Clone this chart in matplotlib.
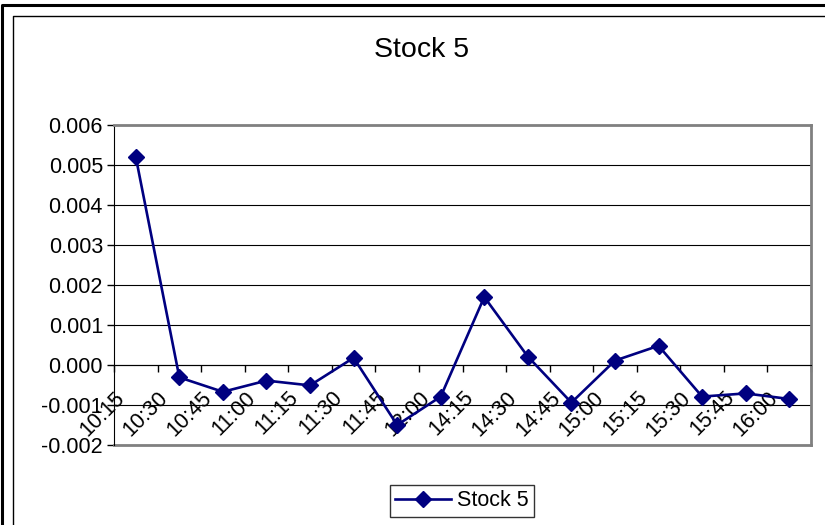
import numpy as np
import matplotlib.pyplot as plt
from matplotlib.lines import Line2D

plt.rcParams['font.family'] = ['Liberation Sans', 'DejaVu Sans']

# datos
horas = ['10:15', '10:30', '10:45', '11:00', '11:15', '11:30', '11:45', '12:00',
         '14:15', '14:30', '14:45', '15:00', '15:15', '15:30', '15:45', '16:00']
stock5 = [0.0052, -0.00031, -0.00067, -0.00039, -0.00051, 0.00018, -0.0015, -0.00079,
          0.0017, 0.00021, -0.00094, 0.00011, 0.00048, -0.00079, -0.00071, -0.00085]
yticks = [-0.002, -0.001, 0.0, 0.001, 0.002, 0.003, 0.004, 0.005, 0.006]

fs = 15.5

fig = plt.figure(figsize=(8.25, 5.25), dpi=100)
ax = fig.add_axes([114/825, 1 - 445/525, (811 - 114)/825, (445 - 125)/525])

x = np.arange(len(horas))
ax.plot(x, stock5, color='#000080', lw=1.9, marker='D', ms=8.5,
        markeredgecolor='#000080', label='Stock 5', clip_on=False, zorder=5)

ax.set_xlim(-0.5, len(horas) - 0.5)
ax.set_ylim(-0.002, 0.006)
ax.set_yticks(yticks)
ax.set_yticklabels(['%.3f' % v for v in yticks], fontsize=fs)
ax.yaxis.grid(True, color='black', lw=0.8)
ax.set_axisbelow(True)

# eje x cruza en cero
ax.spines['bottom'].set_position(('data', 0))
ax.spines['bottom'].set_color('black')
ax.spines['left'].set_color('black')
ax.spines['top'].set_color('#808080')
ax.spines['right'].set_color('#808080')
ax.spines['top'].set_linewidth(2)
ax.spines['right'].set_linewidth(2)
ax.plot([0, 1], [0, 0], transform=ax.transAxes, color='#808080', lw=2, clip_on=False)

ax.set_xticks(np.arange(-0.5, len(horas), 1))
ax.set_xticklabels([])
ax.tick_params(axis='x', direction='out', length=5, width=1, color='black')
ax.tick_params(axis='y', direction='out', length=5, width=1, pad=3, color='black')

for i, h in enumerate(horas):
    ax.annotate(h, (i, 0), xytext=(-5, -16), textcoords='offset points',
                rotation=45, ha='right', va='top', fontsize=fs)

fig.text(422/825, 1 - 50/525, 'Stock 5', ha='center', va='center', fontsize=20.5)

leg = fig.legend(loc='center', bbox_to_anchor=(462/825, 1 - 501/525), fontsize=fs,
                 frameon=True, fancybox=False, handlelength=2.6, borderpad=0.25,
                 handletextpad=0.3)
leg.get_frame().set_edgecolor('black')
leg.get_frame().set_linewidth(1)

# marcos exteriores
fig.add_artist(Line2D([2/825, 2/825, 1], [0, 1 - 5/525, 1 - 5/525],
                      transform=fig.transFigure, color='black', lw=2.2))
fig.add_artist(Line2D([13/825, 13/825, 1], [0, 1 - 16/525, 1 - 16/525],
                      transform=fig.transFigure, color='black', lw=1))

fig.savefig('out.png', dpi=100)
